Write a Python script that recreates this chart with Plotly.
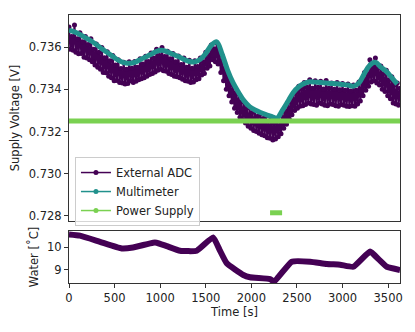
import plotly.graph_objects as go

# multimeter readings, every 60 s
mm_time = list(range(0, 3601, 60))
mm_volt = [0.73680, 0.73672, 0.73660, 0.73645, 0.73630, 0.73612, 0.73592, 0.73574,
           0.73556, 0.73538, 0.73526, 0.73524, 0.73528, 0.73540, 0.73553, 0.73566,
           0.73580, 0.73585, 0.73577, 0.73566, 0.73555, 0.73542, 0.73532, 0.73530,
           0.73542, 0.73570, 0.73608, 0.73625, 0.73565, 0.73490, 0.73430, 0.73385,
           0.73345, 0.73318, 0.73302, 0.73290, 0.73280, 0.73272, 0.73263, 0.73300,
           0.73342, 0.73385, 0.73412, 0.73428, 0.73436, 0.73434, 0.73432, 0.73430,
           0.73428, 0.73426, 0.73423, 0.73420, 0.73415, 0.73430, 0.73475, 0.73515,
           0.73528, 0.73505, 0.73485, 0.73455, 0.73425]

# external ADC readings, every 15 s (noisy), one row per minute
adc_time = list(range(0, 3631, 15))
adc_volt = [
    0.73695, 0.73590, 0.73650, 0.73585,
    0.73705, 0.73575, 0.73640, 0.73568,
    0.73668, 0.73570, 0.73625, 0.73552,
    0.73650, 0.73548, 0.73612, 0.73540,
    0.73640, 0.73530, 0.73590, 0.73515,
    0.73615, 0.73505, 0.73575, 0.73495,
    0.73598, 0.73480, 0.73550, 0.73478,
    0.73578, 0.73462, 0.73535, 0.73455,
    0.73560, 0.73440, 0.73515, 0.73442,
    0.73540, 0.73432, 0.73498, 0.73430,
    0.73528, 0.73425, 0.73495, 0.73428,
    0.73530, 0.73440, 0.73500, 0.73432,
    0.73532, 0.73438, 0.73505, 0.73445,
    0.73545, 0.73450, 0.73520, 0.73455,
    0.73556, 0.73462, 0.73532, 0.73470,
    0.73572, 0.73475, 0.73548, 0.73482,
    0.73590, 0.73490, 0.73560, 0.73495,
    0.73598, 0.73488, 0.73555, 0.73485,
    0.73580, 0.73475, 0.73545, 0.73470,
    0.73570, 0.73462, 0.73530, 0.73460,
    0.73558, 0.73455, 0.73518, 0.73448,
    0.73548, 0.73440, 0.73505, 0.73438,
    0.73538, 0.73432, 0.73500, 0.73435,
    0.73535, 0.73445, 0.73508, 0.73450,
    0.73548, 0.73468, 0.73530, 0.73475,
    0.73575, 0.73500, 0.73565, 0.73510,
    0.73610, 0.73540, 0.73592, 0.73530,
    0.73620, 0.73520, 0.73575, 0.73480,
    0.73560, 0.73440, 0.73500, 0.73400,
    0.73480, 0.73370, 0.73440, 0.73340,
    0.73420, 0.73310, 0.73385, 0.73290,
    0.73378, 0.73268, 0.73340, 0.73255,
    0.73340, 0.73240, 0.73310, 0.73225,
    0.73312, 0.73215, 0.73290, 0.73205,
    0.73298, 0.73200, 0.73272, 0.73192,
    0.73285, 0.73185, 0.73262, 0.73180,
    0.73275, 0.73170, 0.73250, 0.73168,
    0.73268, 0.73160, 0.73238, 0.73165,
    0.73262, 0.73175, 0.73250, 0.73190,
    0.73295, 0.73215, 0.73300, 0.73235,
    0.73338, 0.73260, 0.73345, 0.73280,
    0.73380, 0.73300, 0.73385, 0.73310,
    0.73415, 0.73320, 0.73400, 0.73322,
    0.73432, 0.73328, 0.73410, 0.73335,
    0.73445, 0.73330, 0.73405, 0.73328,
    0.73440, 0.73325, 0.73410, 0.73335,
    0.73438, 0.73330, 0.73402, 0.73325,
    0.73442, 0.73322, 0.73405, 0.73330,
    0.73430, 0.73328, 0.73400, 0.73322,
    0.73432, 0.73320, 0.73398, 0.73328,
    0.73428, 0.73325, 0.73395, 0.73320,
    0.73425, 0.73318, 0.73392, 0.73322,
    0.73420, 0.73320, 0.73395, 0.73330,
    0.73435, 0.73345, 0.73430, 0.73370,
    0.73480, 0.73395, 0.73475, 0.73415,
    0.73540, 0.73435, 0.73510, 0.73440,
    0.73548, 0.73430, 0.73500, 0.73420,
    0.73510, 0.73400, 0.73475, 0.73390,
    0.73490, 0.73370, 0.73445, 0.73355,
    0.73460, 0.73335, 0.73420, 0.73330,
    0.73430, 0.73325, 0.73405,
]

# power supply readout (with a short drop-out segment)
psu_time = [0, 600, 1200, 1800, 2400, 3000, 3630, None, 2205, 2270, 2337]
psu_volt = [0.7325, 0.7325, 0.7325, 0.7325, 0.7325, 0.7325, 0.7325, None,
            0.72815, 0.72815, 0.72815]

# water temperature
water_time = [0, 120, 340, 578, 702, 922, 960, 1072, 1218, 1401, 1580, 1650, 1730,
              1912, 1985, 2205, 2249, 2443, 2644, 2827, 2973, 3119, 3302, 3400,
              3485, 3630]
water_temp = [10.55, 10.50, 10.23, 9.94, 9.98, 10.19, 10.19, 10.04, 9.84, 9.84,
              10.42, 9.89, 9.29, 8.78, 8.68, 8.60, 8.49, 9.36, 9.36, 9.26, 9.23,
              9.14, 9.80, 9.45, 9.14, 9.00]

C_ADC = "#440154"
C_MM = "#21918c"
C_PSU = "#7ad151"

fig = go.Figure()

fig.add_trace(go.Scatter(x=adc_time, y=adc_volt, mode="lines+markers",
                         line=dict(color=C_ADC, width=2),
                         marker=dict(color=C_ADC, size=5),
                         showlegend=False, xaxis="x", yaxis="y"))
fig.add_trace(go.Scatter(x=mm_time, y=mm_volt, mode="lines",
                         line=dict(color=C_MM, width=5, shape="spline"),
                         showlegend=False, xaxis="x", yaxis="y"))
fig.add_trace(go.Scatter(x=psu_time, y=psu_volt, mode="lines",
                         line=dict(color=C_PSU, width=5),
                         showlegend=False, xaxis="x", yaxis="y"))

# legend entries (thin line + dot, as in the original)
for name, c in [("External ADC", C_ADC), ("Multimeter", C_MM), ("Power Supply", C_PSU)]:
    fig.add_trace(go.Scatter(x=[None], y=[None], mode="lines+markers", name=name,
                             line=dict(color=c, width=1.5),
                             marker=dict(color=c, size=5),
                             xaxis="x", yaxis="y"))

fig.add_trace(go.Scatter(x=water_time, y=water_temp, mode="lines",
                         line=dict(color=C_ADC, width=6, shape="spline", smoothing=0.4),
                         showlegend=False, xaxis="x2", yaxis="y2"))

axis_style = dict(showline=True, linecolor="#333", linewidth=1, mirror=True,
                  showgrid=False, zeroline=False, ticks="outside", ticklen=4,
                  tickcolor="#333", tickfont=dict(size=11.5, color="#222"))

fig.update_layout(
    width=415, height=332,
    margin=dict(l=69, r=15, t=15, b=49),
    paper_bgcolor="white", plot_bgcolor="white",
    font=dict(family="DejaVu Sans", size=11.5, color="#222"),
    xaxis=dict(axis_style, range=[0, 3630], domain=[0, 1], anchor="y",
               showticklabels=False, ticks="", matches="x2"),
    yaxis=dict(axis_style, range=[0.72776, 0.73752], domain=[0.2313, 1],
               tickvals=[0.728, 0.730, 0.732, 0.734, 0.736], tickformat=".3f",
               title=dict(text="Supply Voltage [V]", font=dict(size=11.5), standoff=6)),
    xaxis2=dict(axis_style, range=[0, 3630], domain=[0, 1], anchor="y2",
                tickvals=[0, 500, 1000, 1500, 2000, 2500, 3000, 3500],
                title=dict(text="Time [s]", font=dict(size=11.5), standoff=2)),
    yaxis2=dict(axis_style, range=[8.43, 10.7], domain=[0, 0.194], anchor="x2",
                tickvals=[9, 10],
                title=dict(text="Water [˚C]", font=dict(size=11.5), standoff=6)),
    legend=dict(x=0.018, y=0.47, xanchor="left", yanchor="top",
                bgcolor="rgba(255,255,255,0.8)", bordercolor="#ccc", borderwidth=1,
                font=dict(size=11.5), itemwidth=30, tracegroupgap=0),
)

fig.write_html("out.html", config={"displayModeBar": False},
               post_script="document.body.style.margin='0';")
